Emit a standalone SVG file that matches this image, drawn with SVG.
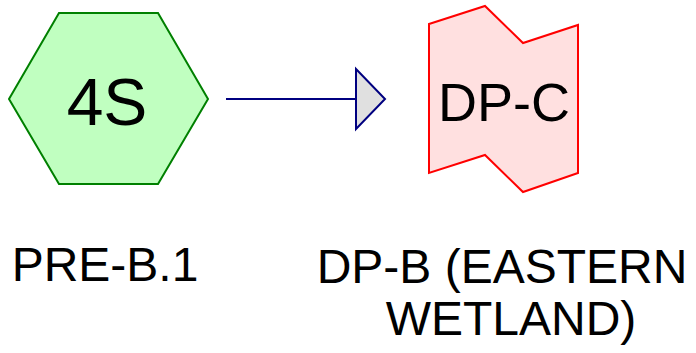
<svg xmlns="http://www.w3.org/2000/svg" width="696" height="353" viewBox="0 0 696 353">
<style>
text { font-family: "Liberation Sans", Arial, sans-serif; fill: #000; }
.lbl { font-size: 48px; }
</style>
<rect width="696" height="353" fill="#ffffff"/>
<g id="connectors">
  <line x1="226" y1="99" x2="356" y2="99" stroke="#000080" stroke-width="2"/>
  <polygon points="356,69 385,99 356,129" fill="#e0e0e0" stroke="#000080" stroke-width="2" stroke-linejoin="miter"/>
</g>
<g id="node-4S">
  <polygon points="9,99 59,13 158,13 208,99 158,184 59,184" fill="#c0ffc0" stroke="#008000" stroke-width="2"/>
  <text x="107" y="125" font-size="66" text-anchor="middle">4S</text>
  <text class="lbl" x="105" y="281" text-anchor="middle">PRE-B.1</text>
</g>
<g id="node-DP-C">
  <polygon points="429,24 485,6 523,43 578,25 578,173 523,192 485,155 429,173" fill="#ffe0e0" stroke="#ff0000" stroke-width="2"/>
  <text x="504" y="121" font-size="54" text-anchor="middle">DP-C</text>
  <text class="lbl" x="502" y="283" text-anchor="middle">DP-B (EASTERN</text>
  <text class="lbl" x="511" y="335" text-anchor="middle">WETLAND)</text>
</g>
</svg>
